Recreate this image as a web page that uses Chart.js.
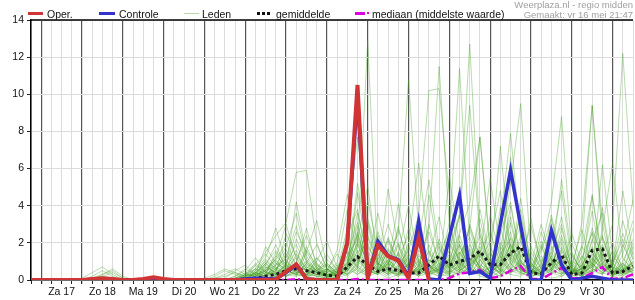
<!DOCTYPE html>
<html lang="nl">
<head>
<meta charset="utf-8">
<title>Neerslag pluim - regio midden</title>
<script src="https://cdn.jsdelivr.net/npm/chart.js"></script>
<style>
  body { margin: 0; background: #fff; font-family: "Liberation Sans", Arial, sans-serif; }
  #wrap { position: relative; width: 635px; height: 300px; }
  #myChart { position: absolute; left: 0; top: 0; }
  .lg { position: absolute; top: 8px; font-size: 10.5px; line-height: 12px; color: #111; white-space: nowrap; }
  .sw { position: absolute; }
  .src { position: absolute; right: 2px; font-size: 9.5px; line-height: 10px; color: #a0a0a0; text-align: right; white-space: nowrap; }
</style>
</head>
<body>
<div id="wrap">
  <canvas id="myChart" width="635" height="300"></canvas>

  <!-- LEGEND -->
  <div class="sw" style="left:28px;top:12px;width:15px;height:3px;background:#d03434"></div>
  <div class="lg" style="left:47px">Oper.</div>
  <div class="sw" style="left:99px;top:12px;width:16px;height:3px;background:#3333cc"></div>
  <div class="lg" style="left:119px">Controle</div>
  <div class="sw" style="left:184px;top:13px;width:15px;height:1px;background:#b6dba6"></div>
  <div class="lg" style="left:202px">Leden</div>
  <div class="sw" style="left:257px;top:12px;width:15px;height:3px;background:repeating-linear-gradient(90deg,#111 0 3px,transparent 3px 5px)"></div>
  <div class="lg" style="left:276px">gemiddelde</div>
  <div class="sw" style="left:355px;top:12px;width:10px;height:3px;background:#dd00dd"></div>
  <div class="sw" style="left:367px;top:12px;width:2px;height:2px;background:#dd00dd"></div>
  <div class="lg" style="left:372px">mediaan (middelste waarde)</div>

  <div class="src" style="top:0px">Weerplaza.nl - regio midden</div>
  <div class="src" style="top:10px">Gemaakt: vr 16 mei 21:47</div>
</div>

<script>
// day labels, one per day, centred at 12u (6-hourly steps, first step = vr 18u)
var days = ['Za 17','Zo 18','Ma 19','Di 20','Wo 21','Do 22','Vr 23','Za 24','Zo 25','Ma 26','Di 27','Wo 28','Do 29','Vr 30'];
var nSteps = 60;

// Oper. run (stops after ma 26)
var oper = [0,0,0,0,0,0,0.05,0.1,0.05,0, 0,0.05,0.15,0.05,0,0,0,0,0,0, 0,0,0,0.02,0.03,0.45,0.85,0.05,0,0,
  0,2.0,10.5,0.1,1.87,1.27,1.04,0.1,2.26,0];
// Controle run
var controle = [0,0,0,0,0,0,0.03,0.05,0.03,0, 0,0,0.1,0.03,0,0,0,0,0,0, 0,0.05,0.1,0.08,0.05,0.4,0.8,0.05,0,0,
  0,2.0,9.9,0.1,2.08,1.3,1.1,0.2,3.16,0.05, 0,2.3,4.56,0.35,0.45,0.1,3.0,5.9,2.9,0, 0,2.67,0.82,0,0.1,0.2,0.1,0,0,0];
// gemiddelde
var gemiddelde = [0,0,0,0,0,0,0.02,0.05,0.03,0, 0,0,0.02,0,0,0,0,0,0.02,0.03, 0.03,0.05,0.1,0.2,0.3,0.5,0.6,0.5,0.4,0.25,
  0.2,0.7,1.25,0.8,0.46,0.6,0.52,0.38,0.38,0.8, 1.3,0.8,1.0,1.15,1.55,0.82,0.82,1.45,1.8,0.38, 0.34,0.92,1.36,0.29,0.38,1.6,1.67,0.38,0.46,0.75];
// mediaan
var mediaan = [0,0,0,0,0,0,0,0,0,0, 0,0,0,0,0,0,0,0,0,0, 0,0,0,0,0,0,0.05,0,0,0,
  0,0,0.05,0,0,0,0,0,0,0, 0,0.1,0.35,0.4,0.55,0.1,0.2,0.5,0.75,0.05, 0.05,0.35,0.65,0.1,0.1,0.38,0.7,0.05,0.1,0.3];

// ensemble members (Leden)
var leden = [
  [0,0,0,0,0,0,0.2,0.5,0.2,0, 0,0,0.1,0,0,0,0,0,0,0, 0,0.3,0.8,1.5,2.4,3.1,5.8,5.9,2.0,0.6, 0.2,1.0,2.5,0.8,1.4,0.5,0.3,0.9,2.2,0.4, 0.6,1.8,3.5,1.2,0.5,0.3,2.5,4.2,1.0,0.2, 0.4,1.6,3.0,0.5,0.2,0.8,2.4,0.6,0.3,1.5],
  [0,0,0,0,0,0.1,0.4,0.7,0.3,0, 0,0,0,0,0,0,0,0,0.2,0.5, 0.3,0.1,0.4,0.9,0.3,0.6,1.2,0.4,0.2,0.1, 0.5,2.8,7.7,3.0,0.6,1.1,0.4,0.2,0.8,1.5, 0.3,0.5,1.2,2.8,7.7,1.5,0.4,0.9,2.1,0.5, 0.2,3.5,1.0,0.3,0.6,2.8,1.1,0.2,0.5,2.0],
  [0,0,0,0,0,0,0.1,0.3,0.5,0.1, 0,0,0.2,0.1,0,0,0,0,0,0, 0,0,0.2,0.5,1.1,2.0,0.8,0.3,0.6,0.2, 0.1,0.6,1.8,12.9,0.7,0.3,1.5,0.6,0.2,0.4, 1.2,0.6,2.4,0.8,1.6,0.3,0.9,2.6,0.4,0.1, 0.5,0.8,2.2,0.3,0.7,4.5,1.2,0.2,0.8,0.6],
  [0,0,0,0,0,0,0,0.2,0.4,0.1, 0,0,0,0,0,0,0,0,0,0.1, 0.5,0.8,0.3,1.8,0.9,0.4,2.2,1.0,0.5,0.3, 0.4,0.9,3.6,1.2,0.5,4.9,1.8,0.6,1.0,0.3, 0.5,2.0,1.1,0.4,1.8,0.6,3.2,7.9,2.1,0.4, 0.3,1.1,0.6,0.2,1.9,9.4,3.0,0.5,0.4,1.0],
  [0,0,0,0,0,0,0,0,0,0, 0,0,0,0,0,0,0,0,0,0, 0,0,0.5,1.2,2.8,0.9,0.5,1.6,0.8,0.3, 0.2,0.5,1.3,0.4,2.0,1.2,2.5,10.8,2.6,0.8, 0.3,0.9,1.5,0.6,0.4,0.2,1.4,2.2,0.7,0.3, 0.9,2.4,0.8,0.1,0.3,1.2,0.6,0.2,1.4,3.2],
  [0,0,0,0,0,0,0,0.1,0,0, 0,0,0,0,0,0,0,0,0,0, 0,0.2,0.6,0.3,0.5,1.4,0.6,0.2,0.1,0.4, 0.6,0.3,0.8,2.4,1.0,0.4,0.8,1.6,3.5,10.2, 10.3,4.5,1.2,0.6,2.8,0.5,0.2,1.0,3.8,0.9, 0.4,0.6,1.5,0.8,0.3,2.1,3.6,0.5,0.2,0.6],
  [0,0,0,0,0,0,0,0,0,0, 0,0,0,0,0,0,0,0,0,0, 0,0,0.1,0.4,1.0,0.5,0.3,0.9,1.9,0.6, 0.2,0.8,2.0,1.1,0.4,0.7,1.4,0.5,0.9,2.8, 11.5,3.0,0.8,1.6,0.7,0.3,1.8,0.9,0.4,0.2, 2.6,1.0,0.3,0.6,1.8,0.9,0.4,0.8,2.5,1.1],
  [0,0,0,0,0,0,0,0,0,0, 0,0,0,0,0,0,0,0,0.1,0.3, 0.6,0.3,0.2,0.7,0.4,2.5,1.3,0.6,0.3,0.2, 0.7,1.5,0.6,3.2,0.9,0.5,0.3,1.8,0.6,0.3, 1.4,2.6,11.4,2.0,0.6,0.4,1.2,3.4,0.8,0.3, 0.6,2.0,4.8,0.9,0.4,0.7,1.6,0.3,0.6,0.9],
  [0,0,0,0,0,0,0,0,0,0, 0,0,0,0,0,0,0,0,0,0, 0,0.1,0.3,0.9,1.6,0.8,0.4,0.6,1.2,0.5, 0.3,0.6,4.7,1.5,0.8,2.2,0.9,0.4,1.3,0.8, 0.5,1.6,3.4,12.7,2.5,0.8,0.4,1.9,0.6,0.2, 1.3,0.5,2.8,0.6,0.2,1.0,2.3,0.9,0.4,0.5],
  [0,0,0,0,0,0,0,0,0,0, 0,0,0,0,0,0,0,0,0,0, 0,0,0.4,0.2,0.8,1.8,3.6,1.1,0.5,0.2, 0.4,1.2,0.7,0.3,2.6,0.9,0.5,1.1,0.4,1.6, 0.7,0.3,1.4,2.3,0.8,0.5,2.0,1.1,4.4,0.6, 0.3,0.9,1.8,0.5,0.6,2.6,1.3,3.0,12.2,4.0],
  [0,0,0,0,0,0,0.1,0.2,0.1,0, 0,0,0,0,0,0,0,0,0,0, 0.2,0.5,1.2,0.4,0.3,0.8,2.6,1.5,0.6,0.3, 0.5,1.9,0.8,0.4,1.1,3.0,1.3,0.6,0.2,0.9, 2.0,0.6,1.5,0.8,3.3,0.9,1.6,5.2,9.5,1.2, 0.4,1.3,0.7,0.3,1.0,3.7,0.8,0.5,1.9,0.7],
  [0,0,0,0,0,0,0,0,0,0, 0,0,0.1,0,0,0,0,0,0,0, 0,0.1,0.6,1.4,0.7,0.3,1.0,2.4,0.9,0.4, 0.3,0.7,1.5,2.0,0.5,0.8,2.7,1.0,0.4,1.9, 0.6,2.4,0.9,0.4,1.5,2.6,0.8,1.3,3.5,0.7, 1.6,4.2,8.8,1.4,0.5,0.9,0.3,1.6,0.7,0.4],
  [0,0,0,0,0,0,0,0.3,0.6,0.2, 0,0,0,0,0,0,0,0,0,0, 0,0.3,0.2,0.5,1.3,0.7,0.4,0.3,0.8,0.5, 0.9,3.8,1.4,0.6,0.3,1.7,0.9,0.5,1.6,0.7, 0.4,1.1,2.5,4.1,7.7,1.8,0.6,0.3,1.2,2.9, 0.9,0.4,1.7,0.6,3.1,9.4,2.2,0.7,0.3,1.2],
  [0,0,0,0,0,0,0,0,0,0, 0,0,0,0,0,0,0,0.1,0.3,0.6, 0.4,0.2,0.8,0.4,1.2,3.0,1.1,0.5,0.3,0.6, 0.4,0.9,2.9,1.0,0.6,0.3,1.2,2.4,0.8,0.5, 1.8,0.7,3.6,9.4,2.2,0.8,7.2,1.4,0.5,0.3, 1.9,0.6,2.4,0.7,0.3,1.4,0.8,2.0,0.6,0.3],
  [0,0,0,0,0,0,0,0,0,0, 0,0,0,0,0,0,0,0,0,0, 0,0.2,0.3,0.9,0.5,1.6,0.8,0.3,0.2,0.5, 1.4,0.6,5.2,1.8,0.9,0.6,0.4,2.0,6.3,1.5, 0.5,1.0,0.4,1.7,0.6,0.3,1.5,0.6,2.4,0.8, 0.3,1.8,0.6,2.5,0.9,0.4,6.2,1.3,0.6,0.8],
  [0,0,0,0,0,0,0,0,0,0, 0,0,0.2,0.1,0,0,0,0,0,0, 0.1,0.4,0.2,0.6,0.3,0.9,1.9,0.7,0.4,0.2, 0.3,1.3,2.2,0.9,3.6,1.2,0.5,0.8,0.3,4.6, 1.2,0.6,2.1,0.8,1.3,0.4,0.9,3.1,0.7,1.5, 0.6,0.3,1.2,0.4,0.8,1.7,0.5,0.9,2.2,0.6],
  [0,0,0,0,0,0,0,0,0,0, 0,0,0,0,0,0,0,0,0,0, 0,0,0.2,0.8,1.9,0.6,0.2,0.4,1.0,2.1, 0.7,0.3,1.0,4.3,1.5,0.7,2.9,0.6,0.3,1.1, 0.4,5.6,1.8,0.7,0.3,1.2,0.5,2.0,1.0,0.4, 1.1,0.6,0.3,0.8,2.7,0.6,1.4,0.4,0.9,0.3],
  [0,0,0,0,0,0,0,0,0,0, 0,0,0,0,0,0,0,0,0,0, 0,0.1,0.1,0.3,0.7,0.4,0.9,0.5,0.3,0.1, 0.3,0.5,1.1,0.6,0.4,0.9,0.5,0.3,0.7,0.4, 0.9,0.3,0.6,1.4,0.5,0.2,0.8,1.5,0.6,0.2, 0.4,0.9,0.5,0.2,0.5,1.1,0.6,0.3,0.2,0.7],
  [0,0,0,0,0,0,0,0,0,0, 0,0,0,0,0,0,0,0,0,0, 0,0,0,0.2,0.4,0.8,0.3,0.2,0.5,0.9, 0.4,0.6,0.3,0.8,0.5,0.2,0.6,0.4,0.3,0.5, 0.2,0.4,0.8,0.3,1.1,0.4,0.2,0.6,1.0,0.3, 0.2,0.6,1.2,0.4,0.2,0.5,0.9,0.3,0.4,0.2],
  [0,0,0,0,0,0,0,0,0,0, 0,0,0,0,0,0,0,0,0,0, 0.2,0.6,0.3,0.1,0.2,0.5,0.3,0.7,0.4,0.2, 0.1,0.3,0.6,0.2,0.4,0.1,0.3,0.2,0.5,0.8, 0.3,0.2,0.4,0.6,0.2,0.1,0.5,0.3,0.2,0.6, 0.3,0.1,0.2,0.5,0.3,0.8,0.4,0.2,0.1,0.3],
  [0,0,0,0,0,0,0,0,0,0, 0,0,0,0,0,0,0,0,0,0, 0,0,0.3,1.1,0.6,0.3,0.2,1.5,3.2,0.8, 0.4,2.4,3.8,1.0,0.5,1.6,0.7,0.3,2.2,5.4, 1.7,0.6,0.9,2.9,1.1,0.4,1.3,0.5,0.8,3.3, 0.7,0.3,0.8,1.5,0.4,2.2,0.9,0.5,1.7,4.3],
  [0,0,0,0,0,0,0,0,0,0, 0,0,0,0,0,0,0,0,0,0, 0,0,0,0.3,0.6,0.2,0.4,0.9,0.3,0.5, 1.6,4.6,2.0,0.6,1.2,0.5,0.2,0.9,1.4,0.6, 0.3,1.2,0.5,0.9,2.4,1.0,0.3,0.8,1.6,0.5, 0.8,2.7,0.9,0.3,0.6,1.0,3.9,0.7,0.4,1.0],
  [0,0,0,0,0,0,0,0,0,0, 0,0,0,0,0,0,0,0,0,0, 0,0.1,0.4,0.2,0.9,0.6,0.3,0.2,0.4,0.8, 0.3,1.1,0.5,0.2,0.7,2.3,1.0,0.4,0.5,1.2, 3.4,0.9,0.5,2.7,0.9,0.3,0.6,2.3,1.3,0.5, 0.3,1.3,3.4,0.7,0.2,0.9,1.5,0.4,0.7,2.8],
  [0,0,0,0,0,0,0,0,0,0, 0,0,0,0,0,0,0,0,0,0, 0,0,0.1,0.5,0.2,0.7,4.2,1.3,0.4,0.2, 0.6,0.3,0.9,2.3,0.8,0.4,1.4,4.0,0.9,0.3, 0.8,1.6,0.6,0.3,1.0,2.1,4.8,1.6,0.5,0.3, 1.8,0.5,0.3,1.0,0.7,0.4,2.7,6.3,1.2,0.5],
  [0,0,0,0,0,0,0,0,0,0, 0,0,0,0,0,0,0,0,0,0, 0,0,0,0.1,0.3,0.2,0.6,1.0,0.4,0.3, 0.2,0.5,1.2,0.4,0.9,0.3,0.6,0.2,0.8,0.5, 1.3,0.4,0.7,1.9,0.6,0.2,1.1,0.5,0.3,0.9, 0.4,1.5,0.6,0.2,0.4,0.7,1.3,0.3,0.6,0.4],
  [0,0,0,0,0,0,0,0,0,0, 0,0,0,0,0,0,0,0,0,0, 0,0,0.2,0.4,0.3,0.8,0.5,0.2,0.3,0.6, 0.2,1.6,0.7,3.3,1.4,0.5,0.2,0.6,0.4,1.1, 0.5,3.1,1.0,0.4,0.7,1.5,0.5,6.6,2.4,0.6, 0.2,0.5,1.6,0.6,0.4,1.2,0.5,0.8,3.2,1.2],
  [0,0,0,0,0,0,0,0,0,0, 0,0,0,0,0,0,0,0,0,0, 0,0,0.1,0.2,0.5,0.3,1.4,0.6,0.2,0.1, 0.4,0.8,0.3,0.6,1.8,0.8,0.3,0.5,1.1,0.4, 0.2,0.8,1.9,0.6,0.4,3.5,1.2,0.4,0.9,0.6, 2.1,0.8,0.4,0.3,1.3,0.5,0.3,1.1,0.5,0.2],
  [0,0,0,0,0,0,0,0,0,0, 0,0,0,0,0,0,0,0,0,0, 0,0,0,0.3,0.2,0.4,0.7,0.3,0.6,1.4, 0.5,0.2,0.7,0.3,0.5,1.0,0.4,0.3,0.6,0.2, 0.6,0.2,0.5,0.9,0.3,0.7,0.4,1.2,0.6,0.3, 0.7,0.4,0.2,0.6,0.3,0.5,0.8,0.4,0.3,0.5],
  [0,0,0,0,0,0,0,0,0,0, 0,0,0,0,0,0,0,0,0,0, 0.1,0.3,0.9,0.4,0.2,0.4,0.9,2.8,0.7,0.3, 0.2,0.4,1.6,0.5,0.3,2.1,0.8,0.3,0.6,3.0, 0.8,0.4,1.1,0.5,2.0,0.8,0.3,0.5,1.7,0.4, 0.6,1.2,0.4,0.3,1.6,4.6,1.0,0.3,0.5,1.8],
  [0,0,0,0,0,0,0,0,0,0, 0,0,0,0,0,0,0,0,0,0, 0,0,0.2,0.7,0.4,0.2,0.5,0.8,0.4,0.2, 0.3,0.7,2.6,0.8,0.3,0.6,1.9,0.5,0.2,0.7, 0.4,0.9,0.3,1.2,0.6,0.2,2.8,0.9,0.3,0.5, 0.3,0.9,2.0,0.5,0.2,0.6,0.3,0.9,0.4,0.8],
  [0,0,0,0,0,0,0,0,0,0, 0,0,0,0,0,0,0,0,0,0, 0,0.2,0.5,1.0,0.6,1.2,2.9,0.9,0.5,1.1, 0.6,1.3,3.1,0.9,1.7,0.6,0.3,1.4,0.7,2.6, 0.9,0.4,1.9,0.6,3.8,1.2,0.5,4.0,1.1,0.4, 1.5,3.3,0.8,0.4,1.2,2.5,0.7,0.3,1.0,2.2],
  [0,0,0,0,0,0,0,0,0,0, 0,0,0,0,0,0,0,0,0,0, 0.1,0.3,0.6,0.3,1.5,0.5,0.3,1.8,0.6,0.4, 0.8,0.5,2.1,5.1,0.9,0.4,1.1,0.6,2.5,0.8, 0.5,1.4,0.6,3.0,1.2,5.5,1.6,0.6,0.4,1.8, 0.6,0.9,5.4,1.3,0.5,0.8,1.9,0.6,0.3,0.9],
  [0,0,0,0,0,0,0,0,0,0, 0,0,0,0,0,0,0,0,0,0, 0,0,0.4,0.8,0.3,0.6,1.6,0.4,0.9,0.3, 0.2,2.2,1.0,0.5,2.4,0.8,4.1,1.2,0.5,0.8, 2.2,0.8,0.4,1.5,0.7,0.3,3.9,1.1,0.5,0.8, 3.0,1.1,0.5,2.0,0.6,0.3,1.2,0.7,4.8,1.4],
  [0,0,0,0,0,0,0,0,0,0, 0,0,0,0,0,0,0,0,0,0, 0,0.1,0.2,0.6,1.1,0.4,0.7,0.3,0.5,0.9, 0.4,0.7,1.9,0.5,0.3,1.1,0.6,2.8,1.0,0.4, 0.7,2.0,0.6,0.4,1.6,0.8,0.3,1.6,2.9,0.8, 0.4,2.9,1.1,0.4,0.8,1.8,0.6,1.5,0.4,0.6],
  [0,0,0,0,0,0,0,0,0,0, 0,0,0,0,0,0,0,0,0.1,0.2, 0.4,0.2,0.3,0.5,0.8,1.1,0.4,0.3,0.7,0.2, 0.5,0.9,0.4,1.3,0.6,0.3,0.7,1.2,0.5,0.3, 0.6,0.3,0.9,0.5,0.4,0.7,1.0,0.4,0.6,0.3, 0.8,0.5,1.1,0.4,0.6,0.9,0.4,0.7,0.5,1.0],
  [0,0,0,0,0,0,0,0,0,0, 0,0,0,0,0,0,0,0,0,0, 0,0.2,0.4,0.2,0.6,1.0,0.5,0.2,1.2,0.6, 0.3,0.8,2.4,0.7,0.4,0.9,2.0,0.8,0.4,0.6, 1.1,0.5,0.3,0.7,1.4,0.4,0.8,1.9,0.7,0.3, 0.5,0.8,1.3,0.4,0.6,1.5,0.6,0.3,0.9,0.5]
];

var steps = [];
for (var i = 0; i < nSteps; i++) steps.push(i);

// Chart.js paints dataset 0 last (on top), so the main runs go first
var datasets = [
  { label: 'Oper.', data: oper, borderColor: '#d03434', borderWidth: 4, pointRadius: 0 },
  { label: 'Controle', data: controle, borderColor: '#3333cc', borderWidth: 3.5, pointRadius: 0 },
  { label: 'gemiddelde', data: gemiddelde, borderColor: '#1a1a1a', borderWidth: 3, borderDash: [3, 3], pointRadius: 0 },
  { label: 'mediaan', data: mediaan, borderColor: '#dd00dd', borderWidth: 2.5, borderDash: [8, 3, 2, 3], pointRadius: 0 }
];
leden.forEach(function (m) {
  datasets.push({ data: m, borderColor: 'rgba(70,160,40,0.38)', borderWidth: 1, pointRadius: 0, tension: 0 });
});

// black line on top of the plot area
var topBorder = {
  id: 'topBorder',
  afterDraw: function (chart) {
    var a = chart.chartArea, c = chart.ctx;
    c.save();
    c.strokeStyle = '#000';
    c.lineWidth = 1.5;
    c.beginPath();
    c.moveTo(a.left, a.top);
    c.lineTo(a.right, a.top);
    c.stroke();
    c.restore();
  }
};

var font = { family: '"Liberation Sans", Arial, sans-serif', size: 10.5 };

new Chart(document.getElementById('myChart'), {
  type: 'line',
  data: { labels: steps, datasets: datasets },
  plugins: [topBorder],
  options: {
    responsive: false,
    animation: false,
    layout: { padding: { top: 20, left: 0, right: 0, bottom: 0 } },
    plugins: { legend: { display: false }, tooltip: { enabled: false } },
    scales: {
      x: {
        type: 'category',
        offset: false,
        afterFit: function (s) { s.height = 20; },
        border: { color: '#000', width: 1.5 },
        grid: {
          color: function (c) { return (c.index % 4 === 1) ? '#555' : '#dcdcdc'; },
          lineWidth: function (c) { return (c.index % 4 === 1) ? 1.2 : 1; },
          tickColor: '#222',
          tickLength: 4
        },
        ticks: {
          autoSkip: false,
          maxRotation: 0,
          padding: 2,
          color: '#111',
          font: font,
          callback: function (v, i) { return (i % 4 === 3) ? (days[(i - 3) / 4] || '') : ''; }
        }
      },
      y: {
        min: 0,
        max: 14,
        afterFit: function (s) { s.width = 31; },
        border: { color: '#000', width: 1.5 },
        grid: { color: '#dcdcdc', tickColor: '#222', tickLength: 4 },
        ticks: { stepSize: 2, padding: 3, color: '#111', font: font }
      }
    }
  }
});
</script>
</body>
</html>
